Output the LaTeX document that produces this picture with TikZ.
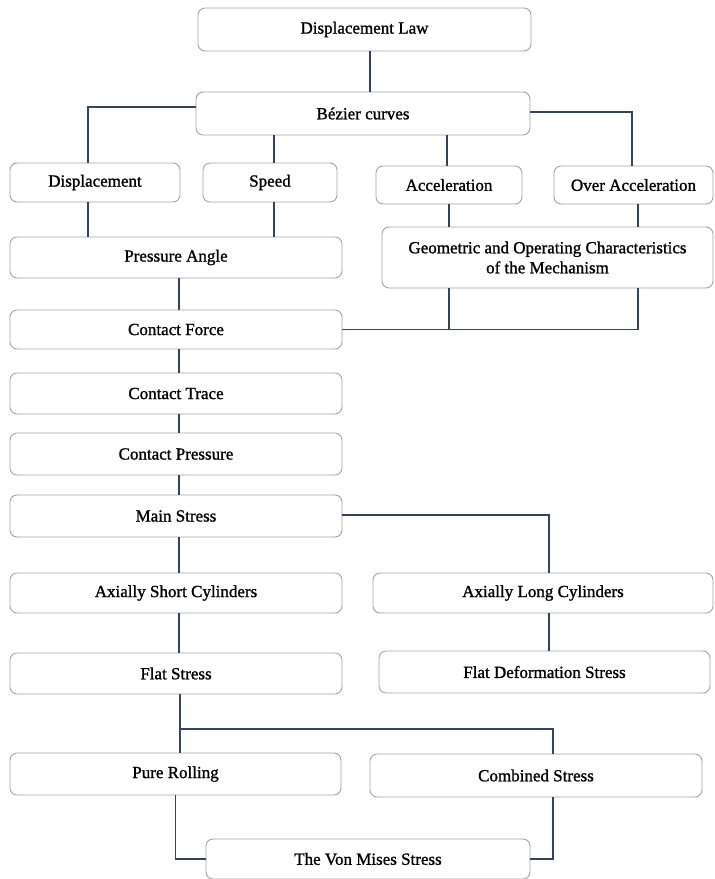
\documentclass[tikz,border=0pt]{standalone}
\usepackage{fontspec}
\setmainfont[FakeBold=1.2]{Liberation Serif}
\definecolor{linecol}{HTML}{34445F}
\definecolor{boxgray}{HTML}{A3A3A3}
\begin{document}
\begin{tikzpicture}[x=1pt,y=-1pt,
  box/.style={draw=boxgray, rounded corners=7pt, fill=white, line width=0.9pt, inner sep=0pt, align=center, font=\fontsize{17}{20}\selectfont},
  conn/.style={draw=linecol, line width=1.5pt}]
\useasboundingbox (0,0) rectangle (715,879);
% nodes
\node[box, minimum width=333pt, minimum height=43pt] (dl) at (364.5,29.5) {Displacement Law};
\node[box, minimum width=334pt, minimum height=43pt] (bez) at (363,113.5) {Bézier curves};
\node[box, minimum width=170pt, minimum height=39pt] (disp) at (95,182.5) {Displacement};
\node[box, minimum width=134pt, minimum height=39pt] (speed) at (270,182.5) {Speed};
\node[box, minimum width=146pt, minimum height=38pt] (acc) at (449,185) {Acceleration};
\node[box, minimum width=159pt, minimum height=38pt] (oacc) at (633.5,185) {Over Acceleration};
\node[box, minimum width=332pt, minimum height=41pt] (pa) at (176,257.5) {Pressure Angle};
\node[box, minimum width=331pt, minimum height=61pt] (geo) at (547.5,257.5) {Geometric and Operating Characteristics\\of the Mechanism};
\node[box, minimum width=332pt, minimum height=39pt] (cf) at (176,329.5) {Contact Force};
\node[box, minimum width=332pt, minimum height=41pt] (ct) at (176,393.5) {Contact Trace};
\node[box, minimum width=332pt, minimum height=42pt] (cp) at (176,454) {Contact Pressure};
\node[box, minimum width=332pt, minimum height=42pt] (ms) at (176,516) {Main Stress};
\node[box, minimum width=332pt, minimum height=40pt] (as) at (176,593) {Axially Short Cylinders};
\node[box, minimum width=340pt, minimum height=40pt] (al) at (543,593) {Axially Long Cylinders};
\node[box, minimum width=332pt, minimum height=41pt] (fs) at (176,673.5) {Flat Stress};
\node[box, minimum width=331pt, minimum height=42pt] (fds) at (544.5,672) {Flat Deformation Stress};
\node[box, minimum width=331pt, minimum height=42pt] (pr) at (175.5,774) {Pure Rolling};
\node[box, minimum width=332pt, minimum height=43pt] (cs) at (536,775.5) {Combined Stress};
\node[box, minimum width=324pt, minimum height=40pt] (vm) at (368,859) {The Von Mises Stress};
\coordinate (j) at (180,729);
% connectors
\draw[conn] ([xshift=5.5pt]dl.south) -- ([xshift=5.5pt]dl.south |- bez.north);
\draw[conn] ([yshift=6.5pt]bez.west) -| ([xshift=-7pt]disp.north);
\draw[conn] ([yshift=1.5pt]bez.east) -| ([xshift=-1.5pt]oacc.north);
\draw[conn] ([xshift=4pt]speed.north) -- ([xshift=4pt]speed.north |- bez.south);
\draw[conn] ([xshift=-2pt]acc.north) -- ([xshift=-2pt]acc.north |- bez.south);
\draw[conn] ([xshift=-7pt]disp.south) -- ([xshift=-7pt]disp.south |- pa.north);
\draw[conn] ([xshift=4pt]speed.south) -- ([xshift=4pt]speed.south |- pa.north);
\draw[conn] (acc.south) -- (acc.south |- geo.north);
\draw[conn] ([xshift=4.5pt]oacc.south) -- ([xshift=4.5pt]oacc.south |- geo.north);
\draw[conn] ([xshift=3pt]pa.south) -- ([xshift=3pt]pa.south |- cf.north);
\draw[conn] ([xshift=90.5pt]geo.south) |- (cf.east);
\draw[conn] ([xshift=-98.5pt]geo.south) -- ([xshift=-98.5pt]geo.south |- cf.east);
\draw[conn] ([xshift=3pt]cf.south) -- ([xshift=3pt]cf.south |- ct.north);
\draw[conn] ([xshift=3pt]ct.south) -- ([xshift=3pt]ct.south |- cp.north);
\draw[conn] ([xshift=3pt]cp.south) -- ([xshift=3pt]cp.south |- ms.north);
\draw[conn] ([xshift=3pt]ms.south) -- ([xshift=3pt]ms.south |- as.north);
\draw[conn] ([yshift=1pt]ms.east) -| ([xshift=6pt]al.north);
\draw[conn] ([xshift=3pt]as.south) -- ([xshift=3pt]as.south |- fs.north);
\draw[conn] ([xshift=6pt]al.south) -- ([xshift=6pt]al.south |- fds.north);
\draw[conn] ([xshift=4pt]fs.south) -- ([xshift=4pt]fs.south |- pr.north);
\draw[conn] (j) -| ([xshift=17pt]cs.north);
\draw[conn] (pr.south) |- (vm.west);
\draw[conn] ([xshift=17pt]cs.south) |- (vm.east);
\end{tikzpicture}
\end{document}
